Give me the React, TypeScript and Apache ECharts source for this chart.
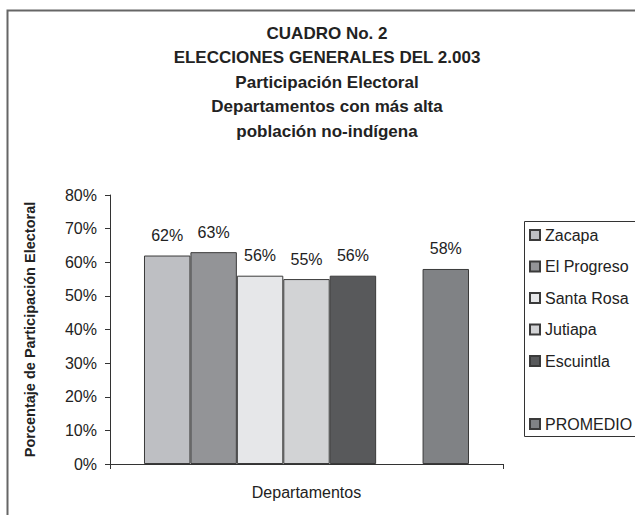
import React, { useEffect, useRef } from "react";
import * as echarts from "echarts";

const titleLines = [
  "CUADRO No. 2",
  "ELECCIONES GENERALES DEL 2.003",
  "Participación Electoral",
  "Departamentos con más alta",
  "población no-indígena",
];
const categories = [""];
const seriesNames = ["Zacapa", "El Progreso", "Santa Rosa", "Jutiapa", "Escuintla", " ", "PROMEDIO"];
const seriesValues: (number | null)[] = [62, 63, 56, 55, 56, null, 58];
const seriesColors = ["#bebfc3", "#939497", "#e6e7e9", "#d2d3d5", "#58595b", "transparent", "#808285"];
const yTicks = { min: 0, max: 80, interval: 10 };
const xName = "Departamentos";
const yName = "Porcentaje de Participación Electoral";

const FONT = "'Liberation Sans', Arial, Helvetica, sans-serif";

export default function App() {
  const ref = useRef<HTMLDivElement>(null);
  useEffect(() => {
    if (!ref.current) return;
    const chart = echarts.init(ref.current, undefined, { renderer: "svg" });
    const series = seriesNames.map((name, i) => ({
      name,
      type: "bar" as const,
      data: [seriesValues[i]],
      barGap: "0%",
      barCategoryGap: "17.3%",
      itemStyle: {
        color: seriesColors[i],
        borderColor: seriesColors[i] === "transparent" ? "transparent" : "#3a3a3a",
        borderWidth: 1,
      },
      label: {
        show: seriesValues[i] !== null,
        position: "top" as const,
        distance: 12,
        formatter: "{c}%",
        color: "#222",
        fontSize: 16,
        fontFamily: FONT,
      },
    }));
    chart.setOption({
      animation: false,
      backgroundColor: "#fff",
      title: {
        text: titleLines.join("\n"),
        left: 327,
        top: 21,
        padding: 0,
        textAlign: "center",
        textStyle: {
          fontFamily: FONT,
          fontWeight: "bold",
          fontSize: 17,
          lineHeight: 24.5,
          color: "#222",
        },
      },
      grid: { left: 110, right: 132, top: 195, bottom: 51 },
      xAxis: {
        type: "category",
        data: categories,
        name: xName,
        nameLocation: "middle",
        nameGap: 20,
        nameTextStyle: { fontFamily: FONT, fontSize: 16, color: "#222" },
        axisLine: { lineStyle: { color: "#333", width: 1 } },
        axisTick: { show: true, length: 5, lineStyle: { color: "#333" } },
        axisLabel: { show: false },
      },
      yAxis: {
        type: "value",
        min: yTicks.min,
        max: yTicks.max,
        interval: yTicks.interval,
        name: yName,
        nameLocation: "middle",
        nameRotate: 90,
        nameGap: 73,
        nameTextStyle: { fontFamily: FONT, fontSize: 14.5, fontWeight: "bold", color: "#222" },
        axisLine: { show: true, lineStyle: { color: "#333", width: 1 } },
        axisTick: { show: true, length: 5, lineStyle: { color: "#333" } },
        splitLine: { show: false },
        axisLabel: {
          formatter: "{value}%",
          fontFamily: FONT,
          fontSize: 16,
          color: "#222",
          margin: 13,
        },
      },
      legend: {
        orient: "vertical",
        left: 529,
        top: 227,
        padding: 0,
        itemWidth: 10,
        itemHeight: 10,
        itemGap: 15.5,
        icon: "rect",
        selectedMode: false,
        data: seriesNames,
        textStyle: {
          fontFamily: FONT,
          fontSize: 16,
          lineHeight: 16,
          color: "#222",
        },
      },
      graphic: [
        {
          type: "rect",
          shape: { x: 7.5, y: 10.5, width: 700, height: 600 },
          style: { fill: "none", stroke: "#666", lineWidth: 2 },
          silent: true,
        },
        {
          type: "rect",
          shape: { x: 524.5, y: 221.5, width: 200, height: 215 },
          style: { fill: "none", stroke: "#333", lineWidth: 1 },
          silent: true,
        },
      ],
      series,
    });
    return () => chart.dispose();
  }, []);
  return (
    <div
      ref={ref}
      style={{ position: "fixed", left: 0, top: 0, width: 635, height: 515 }}
    />
  );
}
